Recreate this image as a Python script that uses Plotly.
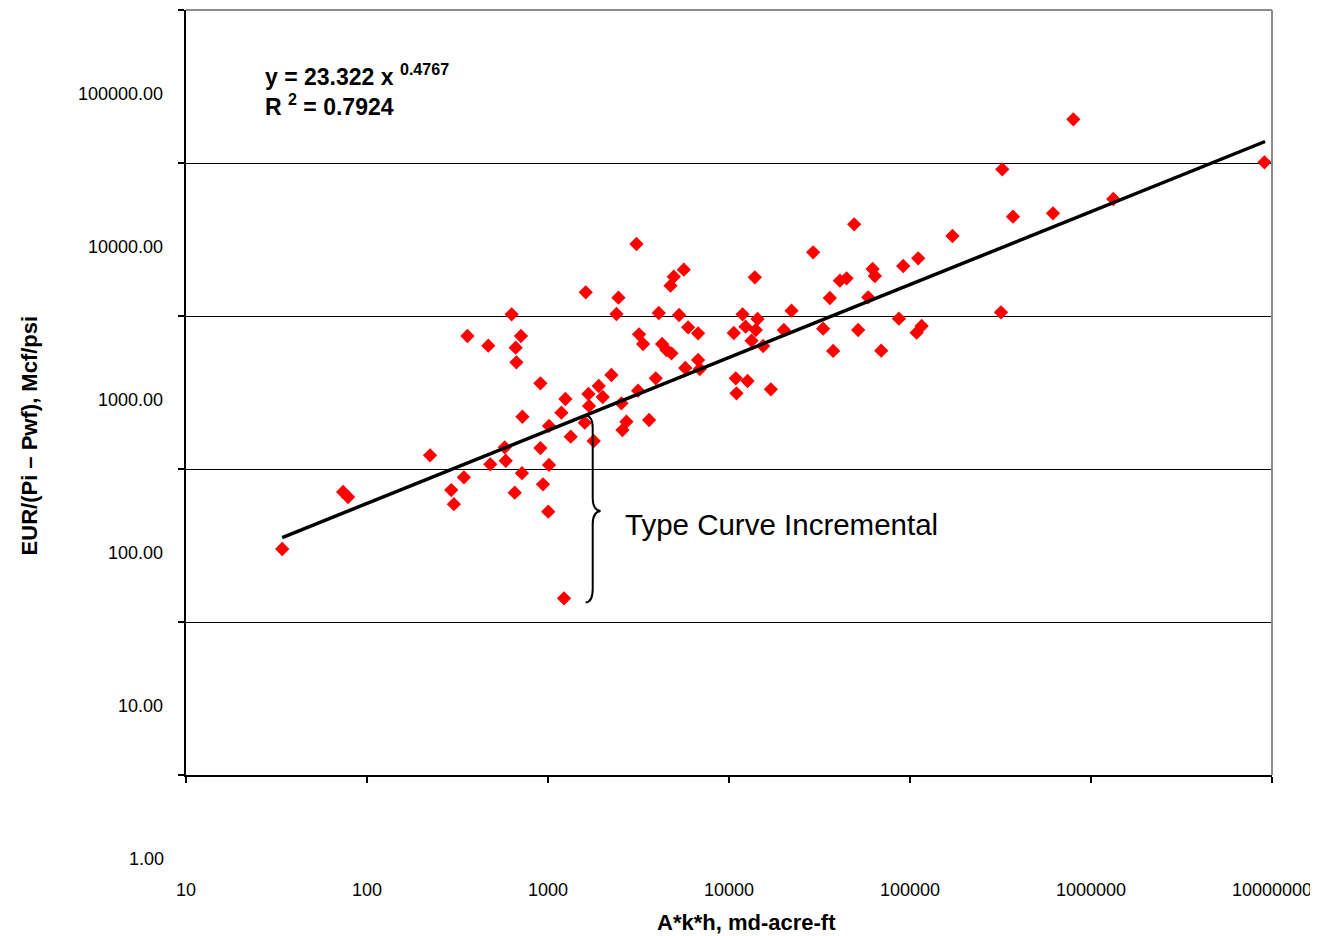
import plotly.graph_objects as go
import numpy as np

# ---- data ----
akh = [34.0, 73.8, 78.6, 223, 292, 302, 343, 359, 468, 480,
       577, 584, 630, 663, 669, 655, 709, 718, 722, 908,
       908, 938, 1003, 1013, 1013, 1186, 1248, 1335, 1226, 1616,
       1673, 1686, 1596, 1789, 1907, 2006, 2241, 2389, 2450, 2545,
       2713, 2578, 3082, 3146, 3185, 3352, 3618, 3939, 4093, 4268,
       4512, 4811, 4750, 4954, 5626, 5300, 5735, 5943, 6749, 6749,
       6897, 10630, 10900, 11000, 11880, 12340, 12660, 13320, 13890, 14070,
       14380, 15440, 17030, 20090, 22160, 29170, 33130, 36080, 37630, 40980,
       44630, 49160, 51720, 58750, 62130, 63970, 69320, 86840, 91730, 108800,
       111000, 116000, 171600, 323400, 318200, 370500, 616600, 798500, 1328000, 9081000]
eur = [105.5, 248.7, 230.7, 432, 256, 207, 310, 2602, 2248, 377,
       487, 398, 3607, 2182, 1751, 246, 2602, 330, 772, 1277,
       482, 279, 185, 672, 374, 820, 1008, 572, 50.2, 5022,
       1087, 908, 706, 536, 1226, 1039, 1447, 3624, 4629, 945,
       717, 632, 10390, 1142, 2669, 2307, 735, 1377, 3679, 2307,
       2108, 2005, 5548, 6353, 7056, 3569, 1608, 2966, 2710, 1813,
       1584, 2722, 1377, 1098, 3607, 2994, 1322, 2424, 6295, 2848,
       3361, 2238, 1167, 2848, 3809, 9171, 2904, 4609, 2077, 5979,
       6199, 13980, 2848, 4657, 7131, 6420, 2086, 3376, 7460, 2735,
       8379, 3025, 11720, 31980, 3717, 15670, 16490, 67860, 20450, 35530]

fit_a = 23.322
fit_b = 0.4767
fit_x = [34.0, 9.16e6]

x_ticks = [10, 100, 1000, 10000, 100000, 1000000, 10000000]
x_ticktext = ["10", "100", "1000", "10000", "100000", "1000000", "10000000"]
y_ticks = [10, 100, 1000, 10000, 100000]
y_ticktext = ["10.00", "100.00", "1000.00", "10000.00", "100000.00"]
y_extra_label = "1.00"
y_range_log = [0.546, 5.546]
y_grid = [10 ** (y_range_log[0] + k) for k in range(6)]

FONT = "Liberation Sans, Arial, sans-serif"

fit_y = [fit_a * v ** fit_b for v in fit_x]

fig = go.Figure()
fig.add_trace(go.Scatter(
    x=akh, y=eur, mode="markers",
    marker=dict(symbol="diamond", size=11, color="#ff0000", line=dict(width=0)),
    showlegend=False, yaxis="y"))
fig.add_trace(go.Scatter(
    x=fit_x, y=fit_y, mode="lines",
    line=dict(color="black", width=3.5),
    showlegend=False, yaxis="y2"))

fig.update_layout(
    width=1310, height=928,
    margin=dict(l=178, r=46, t=2, b=161),
    paper_bgcolor="white", plot_bgcolor="white",
    font=dict(family=FONT, color="black", size=18),
    xaxis=dict(type="log", range=[1, 7], tickvals=x_ticks, ticktext=x_ticktext,
               ticks="outside", ticklen=6, tickcolor="black", tickwidth=1.5,
               showline=True, linecolor="black", linewidth=1.5,
               showgrid=False, zeroline=False, ticklabelstandoff=92,
               ticklabeloverflow="allow",
               tickfont=dict(size=18, family=FONT)),
    yaxis=dict(type="log", range=y_range_log, tickvals=y_grid,
               ticks="outside", ticklen=6, tickcolor="black", tickwidth=1.5,
               showticklabels=False,
               showline=True, linecolor="black", linewidth=1.5,
               showgrid=True, gridcolor="black", gridwidth=1, zeroline=False),
    yaxis2=dict(type="log", range=y_range_log, overlaying="y", side="left",
                tickvals=y_ticks, ticktext=y_ticktext, ticks="",
                showgrid=False, showline=False, zeroline=False,
                ticklabelstandoff=22,
                tickfont=dict(size=18, family=FONT)),
)

# plot frame: grey top and right edges
fig.add_shape(type="line", xref="paper", yref="paper", x0=0, x1=1, y0=1, y1=1,
              line=dict(color="#8c8c8c", width=2))
fig.add_shape(type="line", xref="paper", yref="paper", x0=1, x1=1, y0=0, y1=1,
              line=dict(color="#8c8c8c", width=2))

# brace
brace = ("M 0.3680,0.4699 Q 0.3745,0.4693 0.3745,0.4536 L 0.3745,0.3621 "
         "Q 0.3745,0.3464 0.3817,0.3451 Q 0.3745,0.3438 0.3745,0.3281 "
         "L 0.3745,0.2431 Q 0.3745,0.2262 0.3680,0.2255")
fig.add_shape(type="path", xref="paper", yref="paper", path=brace,
              line=dict(color="black", width=2))

# "1.00" label (below the plotting area)
y_one_paper = (0 - y_range_log[0]) / (y_range_log[1] - y_range_log[0])
fig.add_annotation(xref="paper", yref="paper", x=0, y=y_one_paper,
                   xanchor="right", yanchor="middle", xshift=-20,
                   text=y_extra_label, showarrow=False,
                   font=dict(size=18, family=FONT))

fig.add_annotation(xref="paper", yref="paper", x=0.0705, y=0.937,
                   xanchor="left", yanchor="top", align="left",
                   text="<b>y = 23.322 x <sup>0.4767</sup><br>R <sup>2</sup> = 0.7924</b>",
                   showarrow=False, font=dict(size=23, family=FONT))

fig.add_annotation(xref="paper", yref="paper", x=0.4021, y=0.3281,
                   xanchor="left", yanchor="middle",
                   text="Type Curve Incremental", showarrow=False,
                   font=dict(size=29.5, family=FONT))

fig.add_annotation(xref="paper", yref="paper", x=0.5159, y=-0.1925,
                   xanchor="center", yanchor="middle",
                   text="<b>A*k*h, md-acre-ft</b>", showarrow=False,
                   font=dict(size=22, family=FONT))

fig.add_annotation(xref="paper", yref="paper", x=-0.1442, y=0.4444,
                   xanchor="center", yanchor="middle", textangle=-90,
                   text="<b>EUR/(Pi – Pwf), Mcf/psi</b>", showarrow=False,
                   font=dict(size=22, family=FONT))

fig.write_html("out.html")
